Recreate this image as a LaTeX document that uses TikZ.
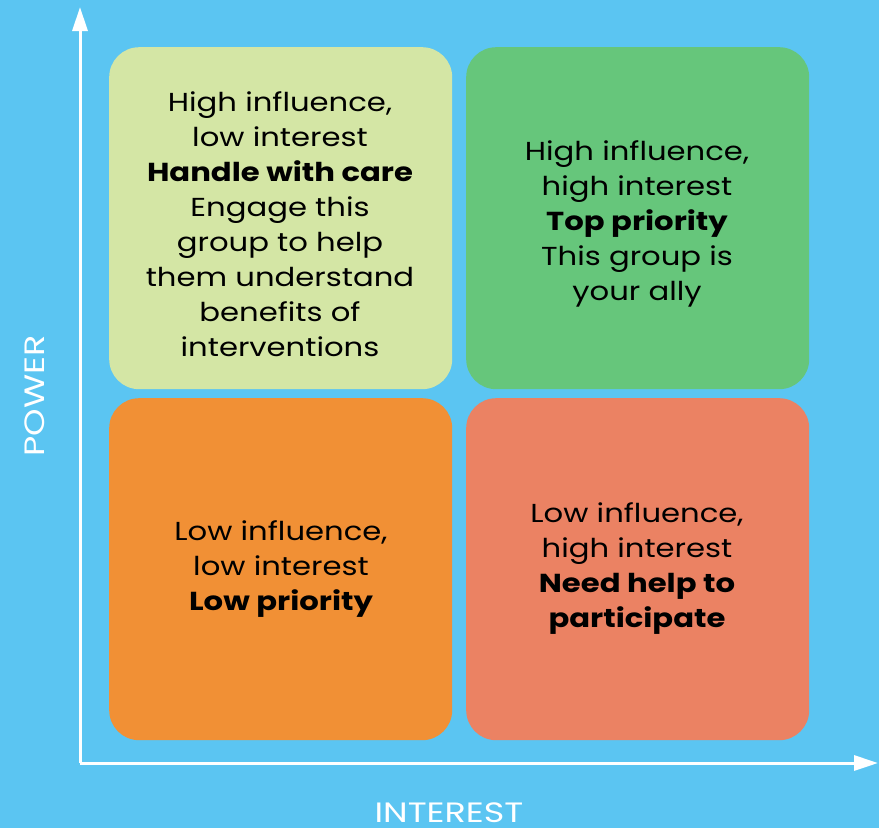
\documentclass[tikz,border=0pt]{standalone}
\usepackage{fontspec}
\setmainfont{Poppins}[FakeStretch=1.18]
\newfontfamily\axfont{Poppins}[FakeStretch=1.25]
\usetikzlibrary{arrows.meta}
\definecolor{bg}{HTML}{5BC5F2}
\definecolor{ctl}{HTML}{D4E6A5}
\definecolor{ctr}{HTML}{66C67B}
\definecolor{cbl}{HTML}{F19035}
\definecolor{cbr}{HTML}{EB8263}
\tikzset{
  quad/.style={rounded corners=30pt, inner sep=0pt, minimum width=343pt, minimum height=342pt, anchor=north west},
  qtext/.style={align=center, font=\fontsize{26}{35}\selectfont, text=black},
  axis/.style={draw=white, line width=3pt, -{Triangle[width=15pt,length=24pt]}},
  axlabel/.style={text=white, font=\axfont\fontsize{28}{32}\selectfont}
}
\begin{document}
\begin{tikzpicture}[x=1pt,y=-1pt]
\fill[bg] (0,0) rectangle (879,828);
\useasboundingbox (0,0) rectangle (879,828);
\node[quad, fill=ctl] (tl) at (109,47) {};
\node[quad, fill=ctr] (tr) at (466,47) {};
\node[quad, fill=cbl] (bl) at (109,398) {};
\node[quad, fill=cbr] (br) at (466,398) {};
\node[qtext] (tlt) at (280,224) {High influence,\\low interest\\\textbf{Handle with care}\\Engage this\\group to help\\them understand\\benefits of\\interventions};
\node[qtext] (trt) at (637,224) {High influence,\\high interest\\\textbf{Top priority}\\This group is\\your ally};
\node[qtext] (blt) at (281,569) {Low influence,\\low interest\\\textbf{Low priority}};
\node[qtext] (brt) at (637,569) {Low influence,\\high interest\\\textbf{Need help to}\\\textbf{participate}};
\coordinate (o) at (80,763);
\coordinate (ytip) at (80,7);
\coordinate (xtip) at (878,763);
\draw[axis] (o) -- (ytip);
\draw[axis] (o) -- (xtip);
\node[axlabel, rotate=90] (pow) at (35,396) {POWER};
\node[axlabel] (int) at (449,813) {INTEREST};
\end{tikzpicture}
\end{document}
